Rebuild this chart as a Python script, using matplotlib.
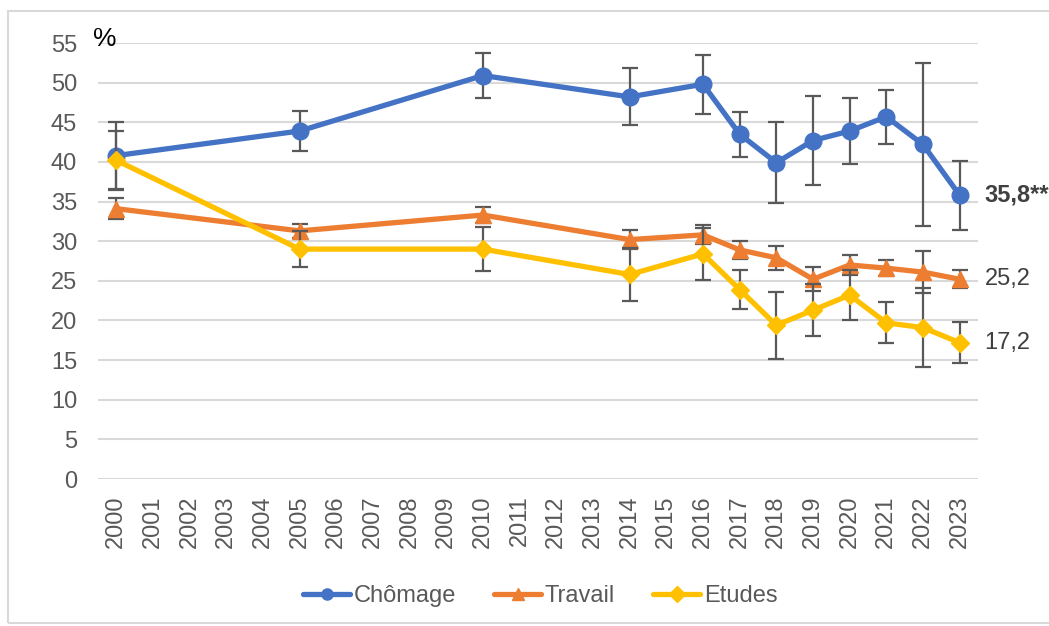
import matplotlib
matplotlib.use('Agg')
import matplotlib.pyplot as plt
from matplotlib.patches import Rectangle

plt.rcParams['font.family'] = ['Liberation Sans', 'DejaVu Sans']

# Données
annees = [str(a) for a in range(2000, 2024)]
annees_obs = [2000, 2005, 2010, 2014, 2016, 2017, 2018, 2019, 2020, 2021, 2022, 2023]

chomage = [40.8, 43.9, 50.9, 48.2, 49.8, 43.5, 39.9, 42.7, 43.9, 45.7, 42.2, 35.8]
chomage_err = [4.2, 2.55, 2.85, 3.6, 3.75, 2.85, 5.1, 5.6, 4.2, 3.4, 10.3, 4.35]

travail = [34.1, 31.3, 33.3, 30.2, 30.8, 28.9, 27.9, 25.2, 27.0, 26.6, 26.1, 25.2]
travail_err = [1.3, 0.9, 1.0, 1.2, 1.2, 1.1, 1.5, 1.5, 1.3, 1.0, 2.6, 1.15]

etudes = [40.2, 29.0, 29.0, 25.8, 28.4, 23.9, 19.4, 21.3, 23.2, 19.7, 19.1, 17.2]
etudes_err = [3.7, 2.3, 2.75, 3.4, 3.3, 2.5, 4.25, 3.3, 3.2, 2.6, 5.0, 2.6]

labels_fin = ['35,8***', '25,2', '17,2']

x = [annees.index(str(a)) for a in annees_obs]

fig = plt.figure(figsize=(10.49, 6.26), dpi=100)
ax = fig.add_axes([0.0934, 0.2348, 0.8389, 0.6965])

# cadre gris clair autour du graphique
fig.patches.append(Rectangle((8 / 1049, 3 / 626), 1.2, 1 - 14 / 626, transform=fig.transFigure,
                             fill=False, edgecolor='#d9d9d9', linewidth=1.5, zorder=0))

series = [
    ('Chômage', chomage, chomage_err, '#4472C4', 'o', 12),
    ('Travail', travail, travail_err, '#ED7D31', '^', 12),
    ('Etudes', etudes, etudes_err, '#FFC000', 'D', 9),
]

z = 3
for nom, val, err, col, mk, ms in series:
    ax.errorbar(x, val, yerr=err, fmt='none', ecolor='#595959', elinewidth=1.6,
                capsize=6, capthick=1.6, zorder=z)
    ax.plot(x, val, color=col, linewidth=3.8, marker=mk, markersize=ms,
            solid_capstyle='round', label=nom, zorder=z + 1)
    z += 2

# étiquettes de fin de série
ax.annotate(labels_fin[0], xy=(x[-1], chomage[-1]), xytext=(18, 0), textcoords='offset points',
            va='center', ha='left', fontsize=17, fontweight='bold', color='#404040',
            annotation_clip=False)
ax.annotate(labels_fin[1], xy=(x[-1], travail[-1]), xytext=(18, 0), textcoords='offset points',
            va='center', ha='left', fontsize=17, color='#404040', annotation_clip=False)
ax.annotate(labels_fin[2], xy=(x[-1], etudes[-1]), xytext=(18, 0), textcoords='offset points',
            va='center', ha='left', fontsize=17, color='#404040', annotation_clip=False)

ax.set_xlim(-0.5, len(annees) - 0.5)
ax.set_ylim(0, 55)
ax.set_yticks(range(0, 56, 5))
ax.set_xticks(range(len(annees)))
ax.set_xticklabels(annees, rotation=90)
ax.tick_params(axis='both', length=0, labelsize=17, labelcolor='#595959')
ax.tick_params(axis='x', pad=12)
ax.tick_params(axis='y', pad=15)
ax.grid(axis='y', color='#d9d9d9', linewidth=1.5, zorder=0)
ax.set_axisbelow(True)
for s in ax.spines.values():
    s.set_visible(False)

fig.text(93 / 1049, 1 - 39 / 626, '%', fontsize=19, color='black', va='center', ha='left')

leg = ax.legend(loc='center', bbox_to_anchor=(0.515, 1 - 596 / 626), bbox_transform=fig.transFigure,
                ncol=3, frameon=False, fontsize=17, handlelength=2.0, columnspacing=1.6,
                handletextpad=0.15, labelcolor='#595959')
for h in leg.legend_handles:
    h.set_markersize(8)

fig.savefig('out.png', dpi=100)
